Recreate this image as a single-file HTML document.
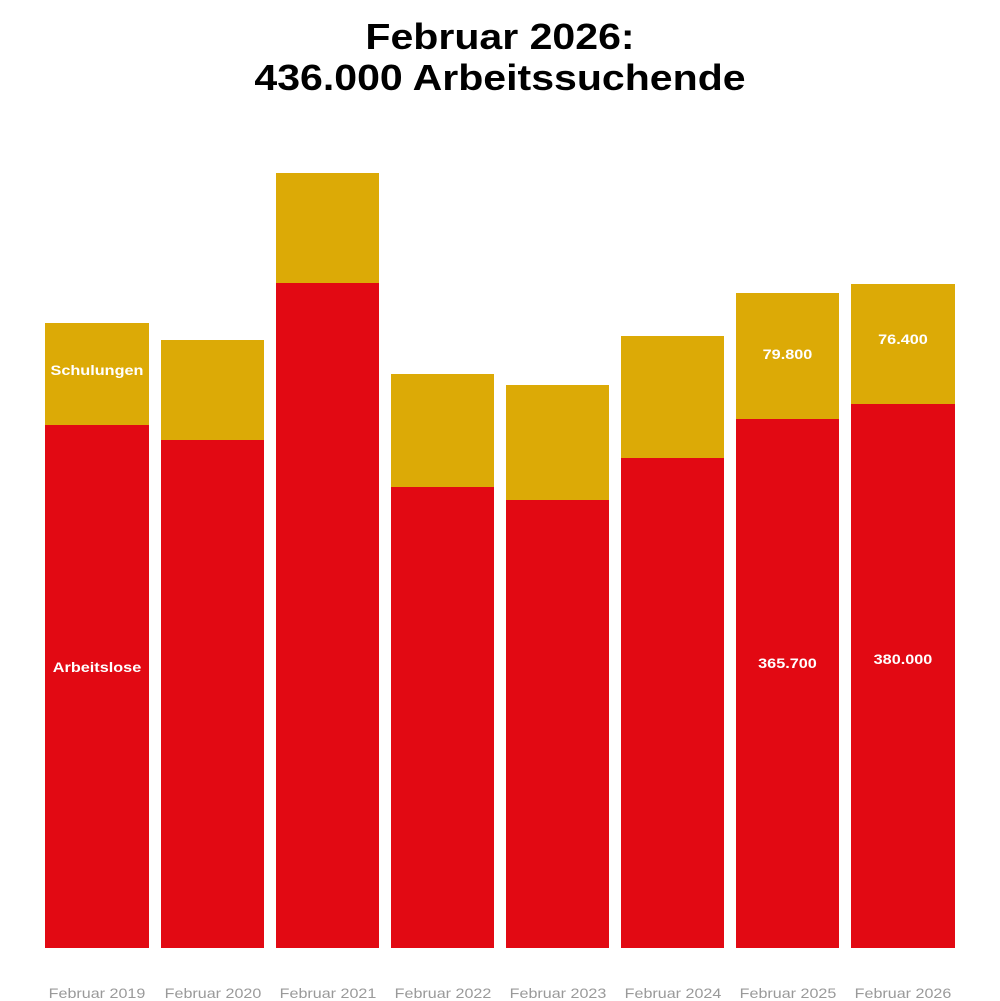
<!DOCTYPE html>
<html><head><meta charset="utf-8"><style>
body{margin:0;width:1000px;height:1000px;background:#fff;font-family:"Liberation Sans",sans-serif;position:relative;overflow:hidden}
.t{position:absolute;left:0;width:1000px;text-align:center;font-weight:bold;font-size:36px;color:#000;transform:scaleX(1.14)}
.b{position:absolute}
.r{background:#e20913}.g{background:#dcaa06}
.l{position:absolute;color:#fff;font-weight:bold;font-size:14px;text-align:center;transform:scaleX(1.16)}
.x{position:absolute;top:985px;font-size:14px;color:#9a9a9a;text-align:center;width:120px;transform:scaleX(1.15)}
</style></head><body>
<div class="t" style="top:16px">Februar 2026:</div>
<div class="t" style="top:57px">436.000 Arbeitssuchende</div>
<div id="c"></div>
<script>
var X=[45,161,276,391,506,621,736,851],W=[104,103,103,103,103,103,103,104];
var R=[425,440,283,487,500,458,419,404],G=[323,340,173,374,385,336,293,284];
var h='';
for(var i=0;i<8;i++){
h+='<div class="b g" style="left:'+X[i]+'px;width:'+W[i]+'px;top:'+G[i]+'px;height:'+(R[i]-G[i])+'px"></div>';
h+='<div class="b r" style="left:'+X[i]+'px;width:'+W[i]+'px;top:'+R[i]+'px;height:'+(948-R[i])+'px"></div>';
h+='<div class="x" style="left:'+(X[i]+W[i]/2-60)+'px">Februar '+(2019+i)+'</div>';
}
function lab(i,y,t){h+='<div class="l" style="left:'+X[i]+'px;width:'+W[i]+'px;top:'+(y-7)+'px">'+t+'</div>';}
lab(0,369,'Schulungen');lab(0,666,'Arbeitslose');
lab(6,353,'79.800');lab(6,662,'365.700');
lab(7,338,'76.400');lab(7,658,'380.000');
document.getElementById('c').innerHTML=h;
</script>
</body></html>
